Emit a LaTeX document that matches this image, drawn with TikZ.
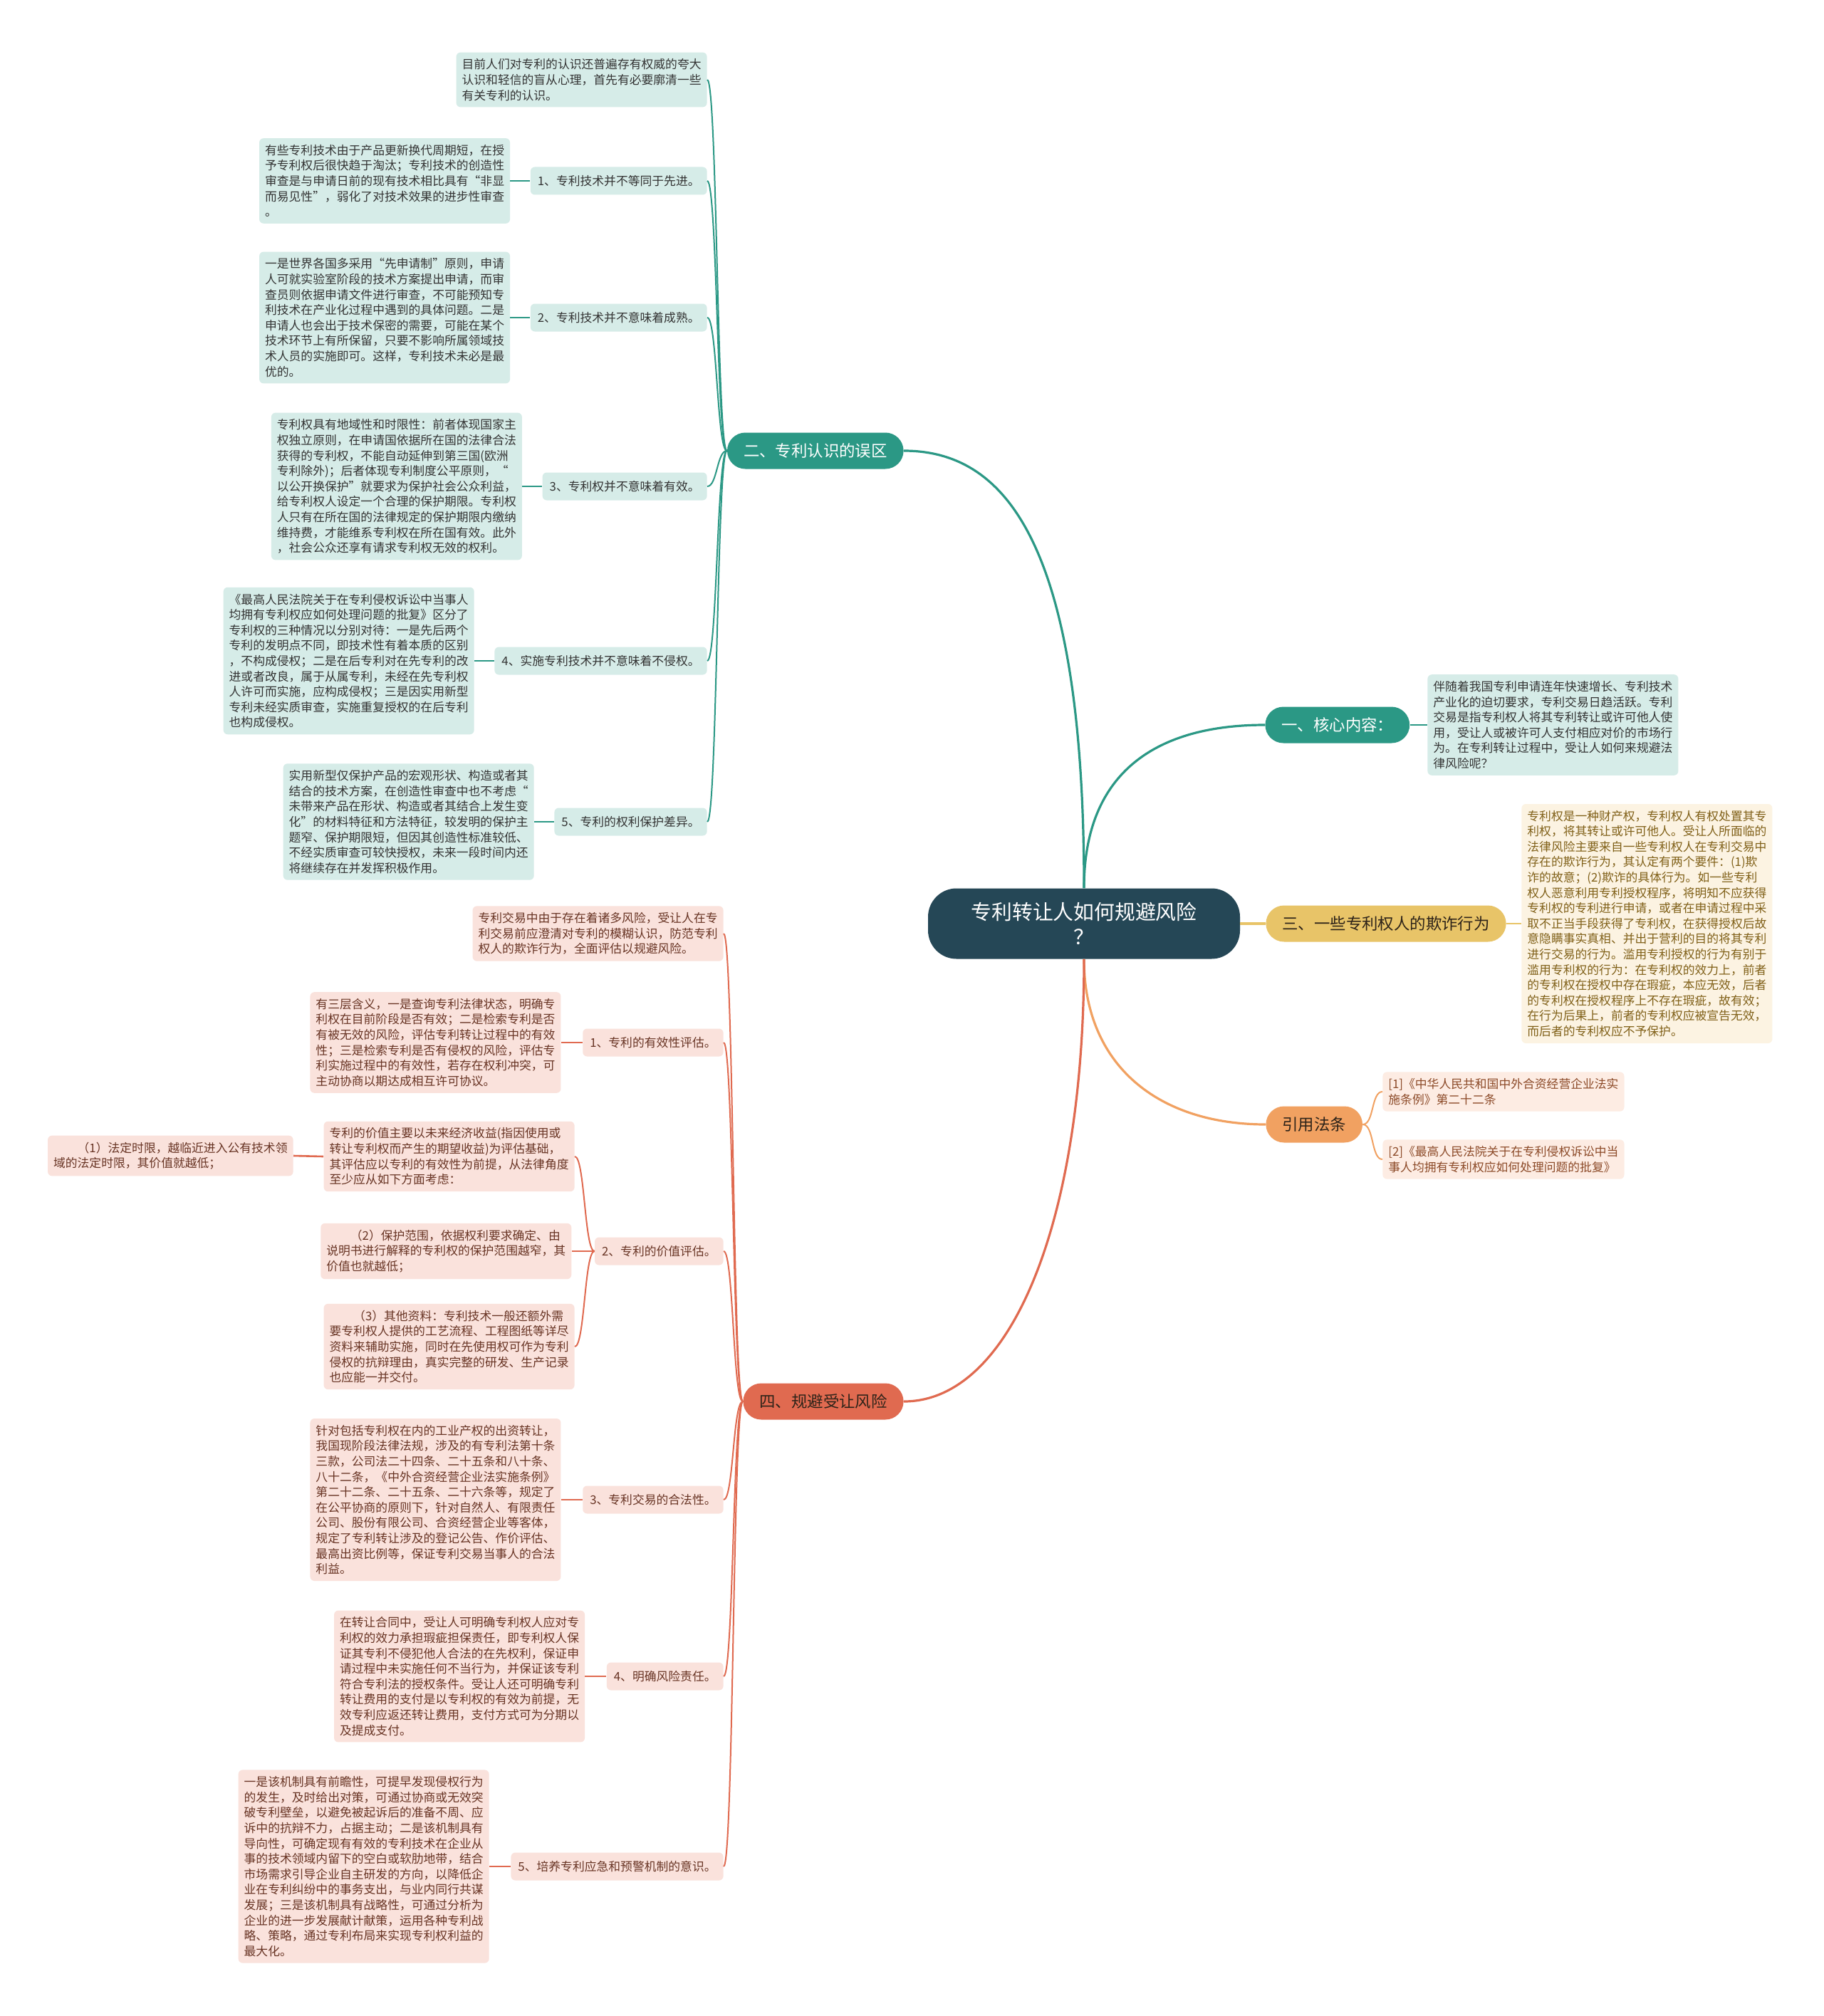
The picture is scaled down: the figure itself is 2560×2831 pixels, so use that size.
\documentclass[tikz,border=0pt]{standalone}
\usepackage{fontspec}
\setmainfont{Noto Sans CJK SC}
\usetikzlibrary{positioning}
\usepackage{xcolor}
\definecolor{rootc}{RGB}{37,71,86}
\definecolor{tealc}{RGB}{43,152,133}
\definecolor{tealpale}{RGB}{214,236,232}
\definecolor{inkteal}{RGB}{51,51,51}
\definecolor{goldc}{RGB}{232,196,104}
\definecolor{goldpale}{RGB}{252,243,226}
\definecolor{inkgold}{RGB}{128,96,24}
\definecolor{orangec}{RGB}{241,161,97}
\definecolor{orangepale}{RGB}{253,236,227}
\definecolor{inkorange}{RGB}{140,74,40}
\definecolor{redc}{RGB}{224,106,80}
\definecolor{redpale}{RGB}{250,226,220}
\definecolor{inkred}{RGB}{104,52,36}
\definecolor{inkdark}{RGB}{45,35,25}

\begin{document}
\begin{tikzpicture}[x=0.5pt, y=-0.5pt, node distance=14pt,
  root/.style={rectangle, rounded corners=20pt, fill=rootc, text=white, minimum width=219pt, minimum height=49.5pt, align=center, font=\fontsize{14.4}{17.5}\selectfont},
  branch/.style 2 args={rectangle, rounded corners=12.75pt, fill=#1, text=#2, minimum height=25.5pt, inner xsep=11.5pt, font=\fontsize{11.2}{13}\selectfont},
  topic/.style 2 args={rectangle, rounded corners=3pt, fill=#1, text=#2, minimum height=19.5pt, inner xsep=5pt, font=\fontsize{8.4}{10.8}\selectfont},
  leaf/.style 2 args={rectangle, rounded corners=3pt, fill=#1, text=#2, inner xsep=4pt, inner ysep=4.5pt, align=left, font=\fontsize{8.4}{10.8}\selectfont},
  wire/.style={draw=#1, line width=1pt},
  trunk/.style={draw=#1, line width=1.6pt}]
  \fill[white] (0,0) rectangle (2560,2831);
  \useasboundingbox (0,0) rectangle (2560,2831);

  \node[root] (root) at (1522,1297) {专利转让人如何规避风险\\？};
  \node[branch={tealc}{white}, anchor=east] (b2) at (1269,633) {二、专利认识的误区};
  \node[branch={tealc}{white}, anchor=west] (b1) at (1776,1018) {一、核心内容：};
  \node[branch={goldc}{inkdark}, anchor=west] (b3) at (1777,1297) {三、一些专利权人的欺诈行为};
  \node[branch={orangec}{inkdark}, anchor=west] (b4) at (1777,1579) {引用法条};
  \node[branch={redc}{inkdark}, anchor=east] (b5) at (1269,1968) {四、规避受让风险};

  \node[leaf={tealpale}{inkteal}, anchor=east] (t0) at (993,112) {目前人们对专利的认识还普遍存有权威的夸大\\认识和轻信的盲从心理，首先有必要廓清一些\\有关专利的认识。};
  \node[topic={tealpale}{inkteal}, anchor=east] (t1) at (993,254) {1、专利技术并不等同于先进。};
  \node[topic={tealpale}{inkteal}, anchor=east] (t2) at (993,446) {2、专利技术并不意味着成熟。};
  \node[topic={tealpale}{inkteal}, anchor=east] (t3) at (993,683) {3、专利权并不意味着有效。};
  \node[topic={tealpale}{inkteal}, anchor=east] (t4) at (993,928) {4、实施专利技术并不意味着不侵权。};
  \node[topic={tealpale}{inkteal}, anchor=east] (t5) at (993,1154) {5、专利的权利保护差异。};
  \node[leaf={tealpale}{inkteal}, left=of t1] (t1d) {有些专利技术由于产品更新换代周期短，在授\\予专利权后很快趋于淘汰；专利技术的创造性\\审查是与申请日前的现有技术相比具有“非显\\而易见性”，弱化了对技术效果的进步性审查\\。};
  \node[leaf={tealpale}{inkteal}, left=of t2] (t2d) {一是世界各国多采用“先申请制”原则，申请\\人可就实验室阶段的技术方案提出申请，而审\\查员则依据申请文件进行审查，不可能预知专\\利技术在产业化过程中遇到的具体问题。二是\\申请人也会出于技术保密的需要，可能在某个\\技术环节上有所保留，只要不影响所属领域技\\术人员的实施即可。这样，专利技术未必是最\\优的。};
  \node[leaf={tealpale}{inkteal}, left=of t3] (t3d) {专利权具有地域性和时限性：前者体现国家主\\权独立原则，在申请国依据所在国的法律合法\\获得的专利权，不能自动延伸到第三国(欧洲\\专利除外)；后者体现专利制度公平原则，“\\以公开换保护”就要求为保护社会公众利益，\\给专利权人设定一个合理的保护期限。专利权\\人只有在所在国的法律规定的保护期限内缴纳\\维持费，才能维系专利权在所在国有效。此外\\，社会公众还享有请求专利权无效的权利。};
  \node[leaf={tealpale}{inkteal}, left=of t4] (t4d) {《最高人民法院关于在专利侵权诉讼中当事人\\均拥有专利权应如何处理问题的批复》区分了\\专利权的三种情况以分别对待：一是先后两个\\专利的发明点不同，即技术性有着本质的区别\\，不构成侵权；二是在后专利对在先专利的改\\进或者改良，属于从属专利，未经在先专利权\\人许可而实施，应构成侵权；三是因实用新型\\专利未经实质审查，实施重复授权的在后专利\\也构成侵权。};
  \node[leaf={tealpale}{inkteal}, left=of t5] (t5d) {实用新型仅保护产品的宏观形状、构造或者其\\结合的技术方案，在创造性审查中也不考虑“\\未带来产品在形状、构造或者其结合上发生变\\化”的材料特征和方法特征，较发明的保护主\\题窄、保护期限短，但因其创造性标准较低、\\不经实质审查可较快授权，未来一段时间内还\\将继续存在并发挥积极作用。};

  \node[leaf={tealpale}{inkteal}, anchor=west] (r1d) at (2004,1018) {伴随着我国专利申请连年快速增长、专利技术\\产业化的迫切要求，专利交易日趋活跃。专利\\交易是指专利权人将其专利转让或许可他人使\\用，受让人或被许可人支付相应对价的市场行\\为。在专利转让过程中，受让人如何来规避法\\律风险呢？};
  \node[leaf={goldpale}{inkgold}, anchor=west] (r3d) at (2136,1297) {专利权是一种财产权，专利权人有权处置其专\\利权，将其转让或许可他人。受让人所面临的\\法律风险主要来自一些专利权人在专利交易中\\存在的欺诈行为，其认定有两个要件：(1)欺\\诈的故意；(2)欺诈的具体行为。如一些专利\\权人恶意利用专利授权程序，将明知不应获得\\专利权的专利进行申请，或者在申请过程中采\\取不正当手段获得了专利权，在获得授权后故\\意隐瞒事实真相、并出于营利的目的将其专利\\进行交易的行为。滥用专利授权的行为有别于\\滥用专利权的行为：在专利权的效力上，前者\\的专利权在授权中存在瑕疵，本应无效，后者\\的专利权在授权程序上不存在瑕疵，故有效；\\在行为后果上，前者的专利权应被宣告无效，\\而后者的专利权应不予保护。};
  \node[leaf={orangepale}{inkorange}, anchor=west] (c1) at (1941,1533) {{[1]}《中华人民共和国中外合资经营企业法实\\施条例》第二十二条};
  \node[leaf={orangepale}{inkorange}, anchor=west] (c2) at (1941,1628) {{[2]}《最高人民法院关于在专利侵权诉讼中当\\事人均拥有专利权应如何处理问题的批复》};

  \node[leaf={redpale}{inkred}, anchor=east] (s0) at (1016,1311) {专利交易中由于存在着诸多风险，受让人在专\\利交易前应澄清对专利的模糊认识，防范专利\\权人的欺诈行为，全面评估以规避风险。};
  \node[topic={redpale}{inkred}, anchor=east] (s1) at (1016,1464) {1、专利的有效性评估。};
  \node[topic={redpale}{inkred}, anchor=east] (s2) at (1016,1757) {2、专利的价值评估。};
  \node[topic={redpale}{inkred}, anchor=east] (s3) at (1016,2106) {3、专利交易的合法性。};
  \node[topic={redpale}{inkred}, anchor=east] (s4) at (1016,2354) {4、明确风险责任。};
  \node[topic={redpale}{inkred}, anchor=east] (s5) at (1016,2621) {5、培养专利应急和预警机制的意识。};
  \node[leaf={redpale}{inkred}, left=15pt of s1] (s1d) {有三层含义，一是查询专利法律状态，明确专\\利权在目前阶段是否有效；二是检索专利是否\\有被无效的风险，评估专利转让过程中的有效\\性；三是检索专利是否有侵权的风险，评估专\\利实施过程中的有效性，若存在权利冲突，可\\主动协商以期达成相互许可协议。};
  \node[leaf={redpale}{inkred}, anchor=east] (s2a) at (807,1624) {专利的价值主要以未来经济收益(指因使用或\\转让专利权而产生的期望收益)为评估基础，\\其评估应以专利的有效性为前提，从法律角度\\至少应从如下方面考虑：};
  \node[leaf={redpale}{inkred}, left=16pt of s2] (s2b) {\hspace*{2em}（2）保护范围，依据权利要求确定、由\\说明书进行解释的专利权的保护范围越窄，其\\价值也就越低；};
  \node[leaf={redpale}{inkred}, anchor=east] (s2c) at (807,1891) {\hspace*{2em}（3）其他资料：专利技术一般还额外需\\要专利权人提供的工艺流程、工程图纸等详尽\\资料来辅助实施，同时在先使用权可作为专利\\侵权的抗辩理由，真实完整的研发、生产记录\\也应能一并交付。};
  \node[leaf={redpale}{inkred}, anchor=east] (s2a1) at (412,1623) {\hspace*{2em}（1）法定时限，越临近进入公有技术领\\域的法定时限，其价值就越低；};
  \node[leaf={redpale}{inkred}, left=15pt of s3] (s3d) {针对包括专利权在内的工业产权的出资转让，\\我国现阶段法律法规，涉及的有专利法第十条\\三款，公司法二十四条、二十五条和八十条、\\八十二条，《中外合资经营企业法实施条例》\\第二十二条、二十五条、二十六条等，规定了\\在公平协商的原则下，针对自然人、有限责任\\公司、股份有限公司、合资经营企业等客体，\\规定了专利转让涉及的登记公告、作价评估、\\最高出资比例等，保证专利交易当事人的合法\\利益。};
  \node[leaf={redpale}{inkred}, left=15pt of s4] (s4d) {在转让合同中，受让人可明确专利权人应对专\\利权的效力承担瑕疵担保责任，即专利权人保\\证其专利不侵犯他人合法的在先权利，保证申\\请过程中未实施任何不当行为，并保证该专利\\符合专利法的授权条件。受让人还可明确专利\\转让费用的支付是以专利权的有效为前提，无\\效专利应返还转让费用，支付方式可为分期以\\及提成支付。};
  \node[leaf={redpale}{inkred}, left=15pt of s5] (s5d) {一是该机制具有前瞻性，可提早发现侵权行为\\的发生，及时给出对策，可通过协商或无效突\\破专利壁垒，以避免被起诉后的准备不周、应\\诉中的抗辩不力，占据主动；二是该机制具有\\导向性，可确定现有有效的专利技术在企业从\\事的技术领域内留下的空白或软肋地带，结合\\市场需求引导企业自主研发的方向，以降低企\\业在专利纠纷中的事务支出，与业内同行共谋\\发展；三是该机制具有战略性，可通过分析为\\企业的进一步发展献计献策，运用各种专利战\\略、策略，通过专利布局来实现专利权利益的\\最大化。};

  \draw[trunk=tealc] (root.north) .. controls +(0,-490) and +(140,0) .. (b2.east);
  \draw[trunk=tealc] (root.north) .. controls +(0,-165) and +(-150,0) .. (b1.west);
  \draw[trunk=goldc] (root.east) -- (b3.west);
  \draw[trunk=orangec] (root.south) .. controls +(0,150) and +(-150,0) .. (b4.west);
  \draw[trunk=redc] (root.south) .. controls +(0,370) and +(150,0) .. (b5.east);

  \foreach \n in {t0,t1,t2,t3,t4,t5}
    \draw[wire=tealc] (b2.west) .. controls +(-14,0) and +(14,0) .. (\n.east);
  \foreach \a/\b in {t1d/t1,t2d/t2,t3d/t3,t4d/t4,t5d/t5}
    \draw[wire=tealc, line width=1.3pt] (\a.east) -- (\b.west);
  \draw[wire=tealc, line width=1.3pt] (b1.east) -- (r1d.west);
  \draw[wire=goldc, line width=1.3pt] (b3.east) -- (r3d.west);
  \foreach \n in {c1,c2}
    \draw[wire=orangec] (b4.east) .. controls +(16,0) and +(-16,0) .. (\n.west);

  \foreach \n in {s0,s1,s2,s3,s4,s5}
    \draw[wire=redc] (b5.west) .. controls +(-14,0) and +(14,0) .. (\n.east);
  \foreach \n in {s2a,s2b,s2c}
    \draw[wire=redc] (s2.west) .. controls +(-14,0) and +(14,0) .. (\n.east);
  \foreach \a/\b in {s1d/s1,s3d/s3,s4d/s4,s5d/s5,s2a1/s2a}
    \draw[wire=redc, line width=1.3pt] (\a.east) -- (\b.west);
\end{tikzpicture}
\end{document}
